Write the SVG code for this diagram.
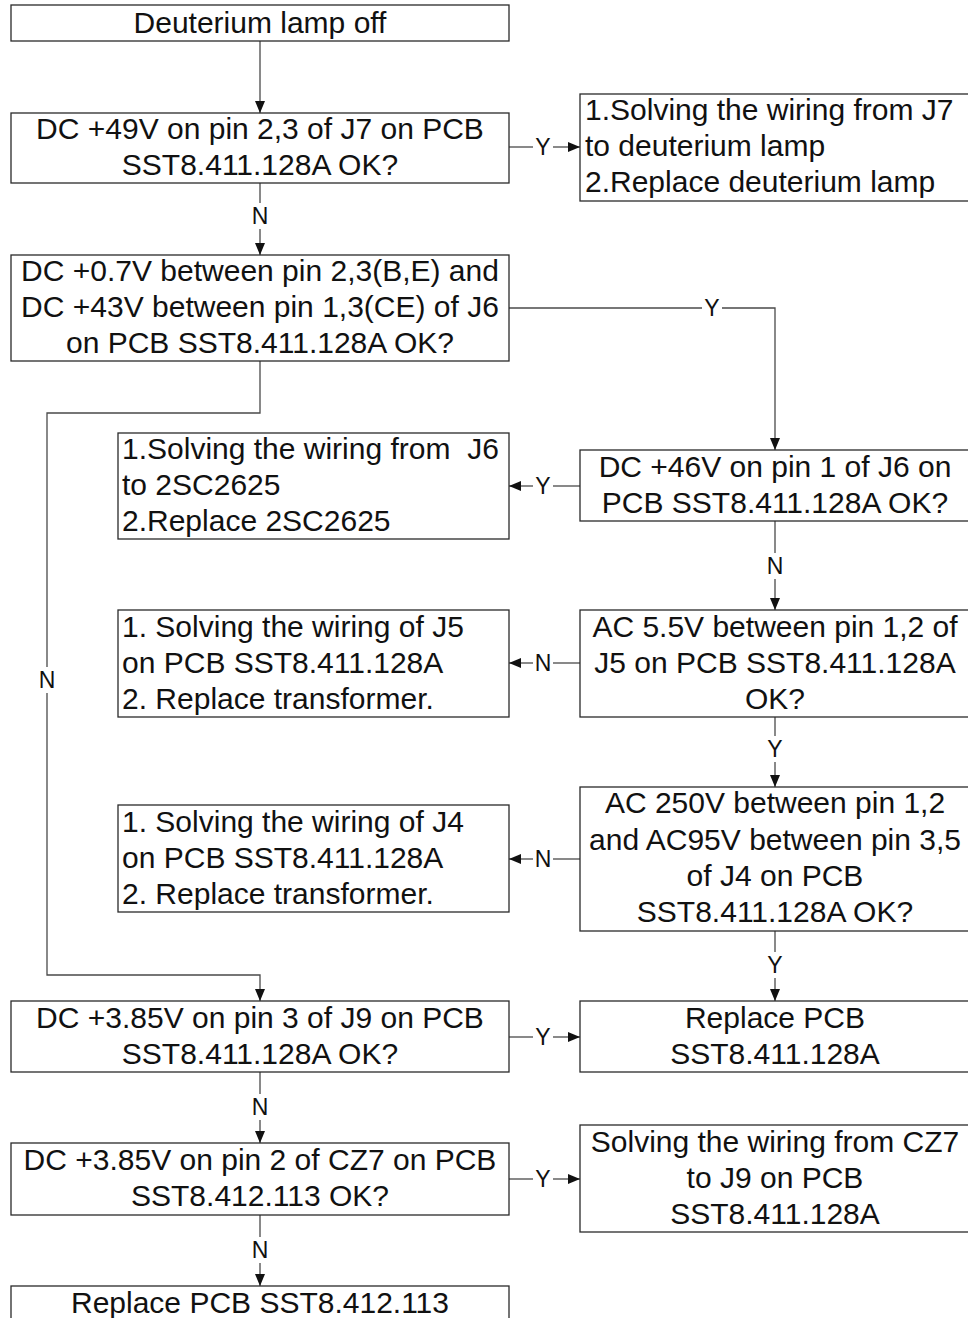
<svg xmlns="http://www.w3.org/2000/svg" width="968" height="1318" viewBox="0 0 968 1318">
  <style>
    .box { fill: #ffffff; stroke: #2a2a2a; stroke-width: 1.3; }
    .t { font-family: "Liberation Sans", Arial, sans-serif; font-size: 30px; fill: #111111; white-space: pre; }
    .c { text-anchor: middle; }
    .l { text-anchor: start; }
    .lbl { font-family: "Liberation Sans", Arial, sans-serif; font-size: 23px; fill: #111111; text-anchor: middle; }
    .wire { fill: none; stroke: #4a4a4a; stroke-width: 1.3; }
  </style>
  <defs>
    <marker id="arrow" viewBox="0 0 12 10" refX="12" refY="5" markerWidth="12" markerHeight="10" markerUnits="userSpaceOnUse" orient="auto">
      <path d="M0,0 L12,5 L0,10 Z" fill="#111111"/>
    </marker>
  </defs>
  <rect x="0" y="0" width="968" height="1318" fill="#ffffff"/>

  <!-- connectors -->
  <g id="connectors">
    <path class="wire" d="M260,41 V113" marker-end="url(#arrow)"/>
    <path class="wire" d="M509,147 H533"/>
    <path class="wire" d="M553,147 H580" marker-end="url(#arrow)"/>
    <text class="lbl" x="543" y="155">Y</text>

    <path class="wire" d="M260,183 V203"/>
    <path class="wire" d="M260,229 V255" marker-end="url(#arrow)"/>
    <text class="lbl" x="260" y="224">N</text>

    <path class="wire" d="M509,308 H702"/>
    <path class="wire" d="M722,308 H775 V450" marker-end="url(#arrow)"/>
    <text class="lbl" x="712" y="316">Y</text>

    <path class="wire" d="M260,361 V413 H47 V667"/>
    <path class="wire" d="M47,693 V975 H260 V1001" marker-end="url(#arrow)"/>
    <text class="lbl" x="47" y="688">N</text>

    <path class="wire" d="M580,486 H553"/>
    <path class="wire" d="M533,486 H509" marker-end="url(#arrow)"/>
    <text class="lbl" x="543" y="494">Y</text>

    <path class="wire" d="M775,521 V553"/>
    <path class="wire" d="M775,579 V610" marker-end="url(#arrow)"/>
    <text class="lbl" x="775" y="574">N</text>

    <path class="wire" d="M580,663 H553"/>
    <path class="wire" d="M533,663 H509" marker-end="url(#arrow)"/>
    <text class="lbl" x="543" y="671">N</text>

    <path class="wire" d="M775,717 V736"/>
    <path class="wire" d="M775,762 V787" marker-end="url(#arrow)"/>
    <text class="lbl" x="775" y="757">Y</text>

    <path class="wire" d="M580,859 H553"/>
    <path class="wire" d="M533,859 H509" marker-end="url(#arrow)"/>
    <text class="lbl" x="543" y="867">N</text>

    <path class="wire" d="M775,931 V952"/>
    <path class="wire" d="M775,978 V1001" marker-end="url(#arrow)"/>
    <text class="lbl" x="775" y="973">Y</text>

    <path class="wire" d="M509,1037 H533"/>
    <path class="wire" d="M553,1037 H580" marker-end="url(#arrow)"/>
    <text class="lbl" x="543" y="1045">Y</text>

    <path class="wire" d="M260,1072 V1094"/>
    <path class="wire" d="M260,1120 V1143" marker-end="url(#arrow)"/>
    <text class="lbl" x="260" y="1115">N</text>

    <path class="wire" d="M509,1179 H533"/>
    <path class="wire" d="M553,1179 H580" marker-end="url(#arrow)"/>
    <text class="lbl" x="543" y="1187">Y</text>

    <path class="wire" d="M260,1215 V1237"/>
    <path class="wire" d="M260,1263 V1286" marker-end="url(#arrow)"/>
    <text class="lbl" x="260" y="1258">N</text>
  </g>

  <!-- nodes -->
  <g id="lamp-off">
    <rect class="box" x="11" y="5" width="498" height="36"/>
    <text class="t c" x="260" y="33">Deuterium lamp off</text>
  </g>

  <g id="check-j7">
    <rect class="box" x="11" y="113" width="498" height="70"/>
    <text class="t c" x="260" y="139">DC +49V on pin 2,3 of J7 on PCB</text>
    <text class="t c" x="260" y="175">SST8.411.128A OK?</text>
  </g>

  <g id="fix-lamp">
    <rect class="box" x="580" y="94" width="400" height="107"/>
    <text class="t l" x="585" y="120">1.Solving the wiring from J7</text>
    <text class="t l" x="585" y="156">to deuterium lamp</text>
    <text class="t l" x="585" y="192">2.Replace deuterium lamp</text>
  </g>

  <g id="check-j6">
    <rect class="box" x="11" y="255" width="498" height="106"/>
    <text class="t c" x="260" y="281">DC +0.7V between pin 2,3(B,E) and</text>
    <text class="t c" x="260" y="317">DC +43V between pin 1,3(CE) of J6</text>
    <text class="t c" x="260" y="353">on PCB SST8.411.128A OK?</text>
  </g>

  <g id="check-j6-pin1">
    <rect class="box" x="580" y="450" width="400" height="71"/>
    <text class="t c" x="775" y="477">DC +46V on pin 1 of J6 on</text>
    <text class="t c" x="775" y="513">PCB SST8.411.128A OK?</text>
  </g>

  <g id="fix-2sc2625">
    <rect class="box" x="118" y="433" width="391" height="106"/>
    <text class="t l" x="122" y="459" xml:space="preserve">1.Solving the wiring from  J6</text>
    <text class="t l" x="122" y="495">to 2SC2625</text>
    <text class="t l" x="122" y="531">2.Replace 2SC2625</text>
  </g>

  <g id="check-j5">
    <rect class="box" x="580" y="610" width="400" height="107"/>
    <text class="t c" x="775" y="637">AC 5.5V between pin 1,2 of</text>
    <text class="t c" x="775" y="673">J5 on PCB SST8.411.128A</text>
    <text class="t c" x="775" y="709">OK?</text>
  </g>

  <g id="fix-j5">
    <rect class="box" x="118" y="610" width="391" height="107"/>
    <text class="t l" x="122" y="637">1. Solving the wiring of J5</text>
    <text class="t l" x="122" y="673">on PCB SST8.411.128A</text>
    <text class="t l" x="122" y="709">2. Replace transformer.</text>
  </g>

  <g id="check-j4">
    <rect class="box" x="580" y="787" width="400" height="144"/>
    <text class="t c" x="775" y="813">AC 250V between pin 1,2</text>
    <text class="t c" x="775" y="850">and AC95V between pin 3,5</text>
    <text class="t c" x="775" y="886">of J4 on PCB</text>
    <text class="t c" x="775" y="922">SST8.411.128A OK?</text>
  </g>

  <g id="fix-j4">
    <rect class="box" x="118" y="805" width="391" height="107"/>
    <text class="t l" x="122" y="832">1. Solving the wiring of J4</text>
    <text class="t l" x="122" y="868">on PCB SST8.411.128A</text>
    <text class="t l" x="122" y="904">2. Replace transformer.</text>
  </g>

  <g id="check-j9">
    <rect class="box" x="11" y="1001" width="498" height="71"/>
    <text class="t c" x="260" y="1028">DC +3.85V on pin 3 of J9 on PCB</text>
    <text class="t c" x="260" y="1064">SST8.411.128A OK?</text>
  </g>

  <g id="replace-128a">
    <rect class="box" x="580" y="1001" width="400" height="71"/>
    <text class="t c" x="775" y="1028">Replace PCB</text>
    <text class="t c" x="775" y="1064">SST8.411.128A</text>
  </g>

  <g id="check-cz7">
    <rect class="box" x="11" y="1143" width="498" height="72"/>
    <text class="t c" x="260" y="1170">DC +3.85V on pin 2 of CZ7 on PCB</text>
    <text class="t c" x="260" y="1206">SST8.412.113 OK?</text>
  </g>

  <g id="fix-cz7">
    <rect class="box" x="580" y="1125" width="400" height="107"/>
    <text class="t c" x="775" y="1152">Solving the wiring from CZ7</text>
    <text class="t c" x="775" y="1188">to J9 on PCB</text>
    <text class="t c" x="775" y="1224">SST8.411.128A</text>
  </g>

  <g id="replace-113">
    <rect class="box" x="11" y="1286" width="498" height="40"/>
    <text class="t c" x="260" y="1313">Replace PCB SST8.412.113</text>
  </g>
</svg>
